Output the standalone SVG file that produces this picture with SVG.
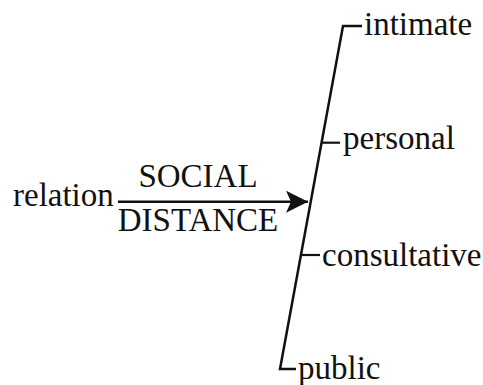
<svg xmlns="http://www.w3.org/2000/svg" width="483" height="385" viewBox="0 0 483 385">
  <style>
    .t { font-family: "Liberation Serif", "Times New Roman", serif; font-size: 33px; fill: #111; }
    .ln { stroke: #111; stroke-width: 2.5; fill: none; stroke-linejoin: miter; }
    .tk { stroke: #111; stroke-width: 2.2; fill: none; }
  </style>
  <defs>
    <marker id="arrow" markerUnits="userSpaceOnUse" viewBox="0 0 22 22" refX="22" refY="11" markerWidth="22" markerHeight="22" orient="auto">
      <path d="M0,0 L22,11 L0,22 L5,11 Z" fill="#111"/>
    </marker>
  </defs>
  <rect width="483" height="385" fill="#fff"/>
  <g id="connectors">
    <line class="ln" x1="118" y1="201.7" x2="308" y2="201.7" marker-end="url(#arrow)"/>
    <polyline class="ln" points="362,26 343,26 280,369 296,369"/>
    <line class="tk" x1="321.5" y1="142.7" x2="340" y2="142.7"/>
    <line class="tk" x1="300.5" y1="255" x2="320" y2="255"/>
  </g>
  <g id="relation"><text class="t" x="13" y="206">relation</text></g>
  <g id="label"><text class="t" x="198" y="187" text-anchor="middle">SOCIAL</text><text class="t" x="198" y="231" text-anchor="middle">DISTANCE</text></g>
  <g id="intimate"><text class="t" x="364" y="35">intimate</text></g>
  <g id="personal"><text class="t" x="343" y="149">personal</text></g>
  <g id="consultative"><text class="t" x="322" y="266">consultative</text></g>
  <g id="public"><text class="t" x="298" y="379">public</text></g>
</svg>
